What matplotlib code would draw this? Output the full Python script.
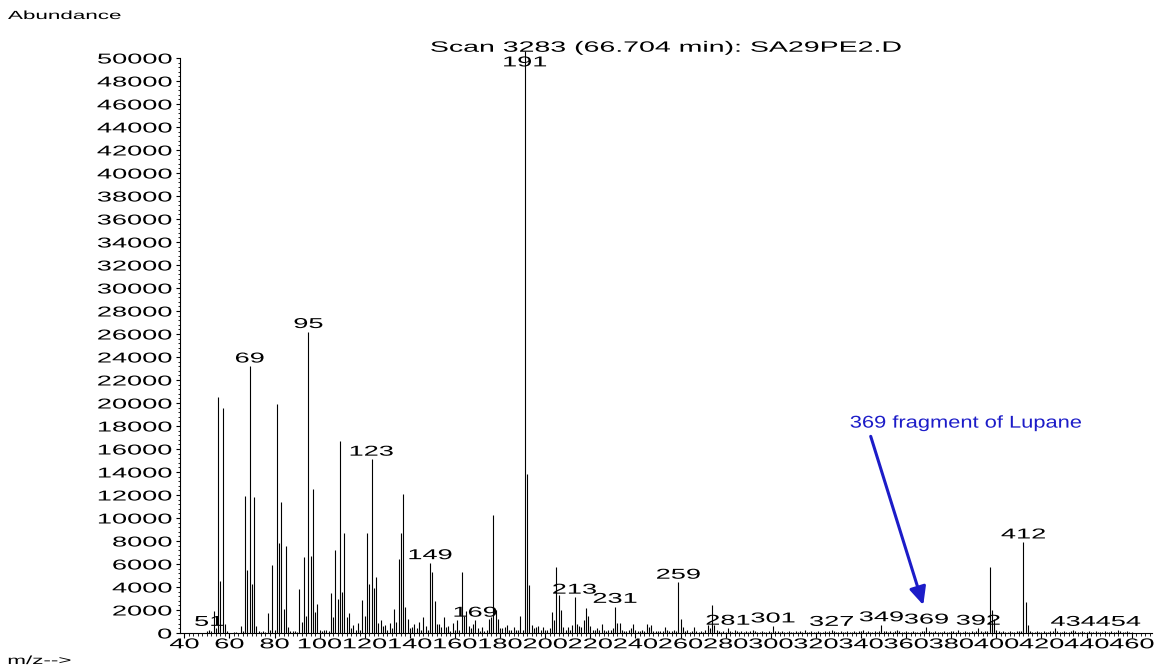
import matplotlib
matplotlib.use("Agg")
import matplotlib.pyplot as plt
from matplotlib.patheffects import AbstractPathEffect
from matplotlib.transforms import Affine2D
from matplotlib.ticker import MultipleLocator

# ---------------- data ----------------
title_text = "Scan 3283 (66.704 min): SA29PE2.D"

# abundances for consecutive integer m/z, segment by segment
seg1_start = 50
seg1_ab = [150, 300, 150, 1900, 400, 20500, 4500, 19600, 800, 150,
           0, 0, 100, 100, 0, 600, 200, 11900, 5500, 23200,
           4300, 11800, 650, 200, 100, 150, 100, 1700, 300, 5900,
           300, 19900, 7800, 11400, 2100, 7600, 500, 200, 150, 150, 100]
seg2_start = 91
seg2_ab = [3800, 1000, 6600, 1500, 26200, 6700, 12500, 1800, 2500, 300,
           200, 250, 300, 200, 3500, 1400, 7200, 3000, 16700, 3600,
           8700, 1400, 1700, 400, 700, 300, 900, 300, 2900, 1500,
           8700, 4300, 15100, 3900, 4900, 900, 1100, 600, 700, 300,
           900, 400, 2100, 1000, 6400, 8700, 12100, 2300, 1200, 400]
seg3_start = 141
seg3_ab = [500, 800, 400, 1000, 300, 1400, 600, 300, 6100, 5300,
           2800, 800, 800, 500, 1400, 500, 600, 200, 900, 300,
           1100, 300, 5300, 1500, 1900, 600, 400, 800, 1100, 400,
           200, 500, 200, 300, 1200, 1400, 10300, 2000, 1200, 400,
           400, 500, 700, 300, 300, 500, 300, 300, 1500, 300]
seg4_start = 191
seg4_ab = [50600, 13800, 4200, 700, 400, 500, 600, 300, 500, 300,
           300, 400, 1800, 1100, 5700, 3300, 2000, 500, 300, 500,
           300, 700, 3100, 800, 600, 500, 1100, 2200, 1500, 600,
           300, 300, 400, 300, 800, 300, 200, 300, 300, 400,
           2300, 900, 900, 300, 200, 200, 300, 400, 800, 300,
           200, 200, 300, 200, 800, 500, 700, 200, 200, 200,
           200, 200, 500, 300, 200, 200, 300, 200, 4400, 1200]
seg5_start = 261
seg5_ab = [500, 200, 300, 100, 200, 500, 200, 100, 200, 100,
           300, 700, 400, 2400, 700, 300, 200, 100, 200, 100,
           400, 150, 100, 300, 150, 100, 200, 100, 200, 100,
           150, 300, 200, 100, 100, 150, 100, 100, 200, 100,
           600, 200, 150, 100, 150, 100, 100, 150, 100, 100,
           150, 100, 200, 100, 250, 100, 100, 150, 100, 100,
           150, 100, 100, 150, 100, 150, 300, 150, 100, 100]
seg6_start = 331
seg6_ab = [150, 100, 100, 150, 100, 100, 150, 100, 200, 150,
           250, 100, 150, 100, 100, 150, 100, 150, 700, 200,
           150, 100, 150, 100, 150, 300, 150, 100, 100, 150,
           100, 100, 150, 100, 100, 100, 200, 150, 500, 150,
           100, 100, 150, 100, 100, 100, 150, 100, 100, 150,
           200, 100, 250, 100, 100, 150, 100, 100, 150, 100,
           150, 400, 200, 100, 150, 200, 5700, 2000, 1200, 300]
seg7_start = 401
seg7_ab = [150, 100, 150, 100, 100, 150, 100, 100, 150, 200,
           200, 7900, 2700, 700, 200, 100, 100, 150, 100, 100,
           150, 100, 100, 150, 150, 400, 150, 100, 100, 150,
           100, 100, 150, 300, 150, 100, 100, 150, 100, 100,
           150, 100, 100, 150, 100, 100, 100, 150, 100, 100,
           150, 100, 100, 300, 150, 100, 100, 150, 100, 100]

labelled_mz = [51, 69, 95, 123, 149, 169, 191, 213, 231, 259,
               281, 301, 327, 349, 369, 392, 412, 434, 454]

note_text = "369 fragment of Lupane"
note_mz = 369

yticks = list(range(0, 50001, 2000))
xticks = list(range(40, 461, 20))

# ---------------- helpers ----------------
class HStretch(AbstractPathEffect):
    """Render text glyphs stretched horizontally (the reference uses a wide font)."""
    def __init__(self, sx=1.9, align="center"):
        super().__init__()
        self.sx = sx
        self.align = align

    def draw_path(self, renderer, gc, tpath, affine, rgbFace=None):
        ext = tpath.get_extents()
        if self.align == "center":
            px = 0.5 * (ext.x0 + ext.x1)
        elif self.align == "right":
            px = ext.x1
        else:
            px = ext.x0
        t = Affine2D().translate(-px, 0).scale(self.sx, 1.0).translate(px, 0) + affine
        renderer.draw_path(gc, tpath, t, rgbFace)


segments = [(seg1_start, seg1_ab), (seg2_start, seg2_ab), (seg3_start, seg3_ab),
            (seg4_start, seg4_ab), (seg5_start, seg5_ab), (seg6_start, seg6_ab),
            (seg7_start, seg7_ab)]
mz = []
ab = []
for start, vals in segments:
    for i, v in enumerate(vals):
        if v > 0:
            mz.append(start + i)
            ab.append(v)
lookup = dict(zip(mz, ab))

# ---------------- figure ----------------
plt.rcParams["font.family"] = ["Liberation Sans", "DejaVu Sans"]
W, H = 1157, 670
fig = plt.figure(figsize=(W / 100, H / 100), dpi=100)
ax = fig.add_axes([180 / W, 1 - 633 / H, (1152 - 180) / W, (633 - 58) / H])

ax.vlines(mz, 0, ab, colors="black", linewidth=0.8, clip_on=False)

ax.set_xlim(38.1, 469.0)
ax.set_ylim(0, 50000)
for s in ["top", "right"]:
    ax.spines[s].set_visible(False)
for s in ["left", "bottom"]:
    ax.spines[s].set_linewidth(0.8)

ax.set_yticks(yticks)
ax.set_yticklabels([str(v) for v in yticks])
ax.set_xticks(xticks)
ax.set_xticklabels([str(v) for v in xticks])
ax.xaxis.set_minor_locator(MultipleLocator(2))
ax.yaxis.set_minor_locator(MultipleLocator(400))
ax.tick_params(axis="y", which="major", length=3, width=0.8, pad=3, labelsize=10.3)
ax.tick_params(axis="y", which="minor", length=1.5, width=0.6)
ax.tick_params(axis="x", which="major", length=3.6, width=0.8, pad=-0.5, labelsize=10.3)
ax.tick_params(axis="x", which="minor", length=2.0, width=0.6)

stretch_c = HStretch(1.9, "center")
stretch_r = HStretch(1.9, "right")
stretch_l = HStretch(1.9, "left")
for lab in ax.get_yticklabels():
    lab.set_path_effects([stretch_r])
for lab in ax.get_xticklabels():
    lab.set_path_effects([stretch_c])

# title
t = ax.set_title(title_text, fontsize=10.8, pad=4.5)
t.set_path_effects([HStretch(1.9, "center")])

# peak labels
for m in labelled_mz:
    h = min(lookup.get(m, 0), 48950)
    txt = ax.annotate(str(m), xy=(m, h), xytext=(0, 0.5), textcoords="offset points",
                      ha="center", va="bottom", fontsize=10.3, annotation_clip=False)
    txt.set_path_effects([stretch_c])

# axis captions
a1 = fig.text(8 / W, 1 - 16 / H, "Abundance", ha="left", va="center", fontsize=8.5)
a1.set_path_effects([stretch_l])
a2 = fig.text(8 / W, 1 - 661 / H, "m/z-->", ha="left", va="center", fontsize=8.5)
a2.set_path_effects([stretch_l])

# blue annotation
blue = "#1c1cc8"
nt = ax.text(335.1, 18250, note_text, color=blue, fontsize=12.3, ha="left", va="center")
nt.set_path_effects([HStretch(1.28, "left")])
ax.annotate("", xy=(note_mz - 1.4, 2430), xytext=(344.3, 17100),
            arrowprops=dict(arrowstyle="-|>,head_length=0.9,head_width=0.42",
                            color=blue, lw=2.2, shrinkA=0, shrinkB=0,
                            mutation_scale=12))

fig.savefig("out.png", dpi=100)
